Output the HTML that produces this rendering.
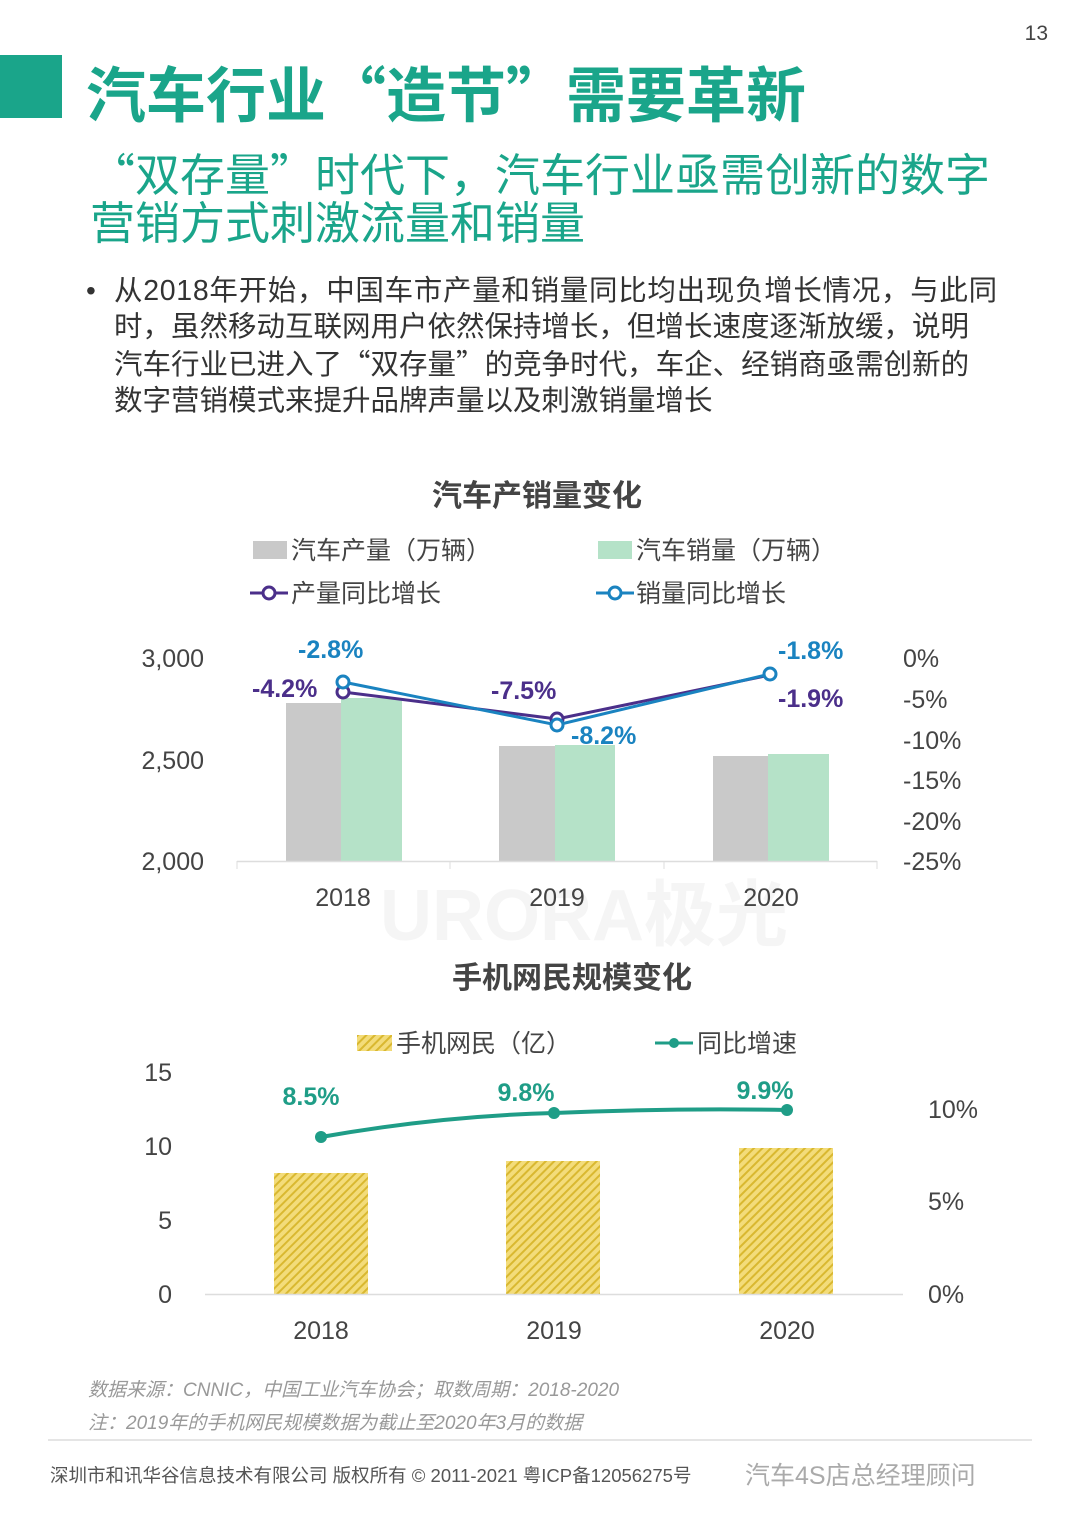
<!DOCTYPE html>
<html><head><meta charset="utf-8"><style>
body{margin:0;background:#fff;width:1080px;height:1527px;overflow:hidden;font-family:"Liberation Sans","Noto Sans CJK SC",sans-serif;}
.a{position:absolute;white-space:nowrap;}
.q{font-family:"Noto Sans CJK SC",sans-serif;}
</style></head><body>
<div class="a" style="right:32px;top:22px;font-size:21px;color:#444">13</div>
<div class="a" style="left:0;top:55px;width:62px;height:63px;background:#1aa58a"></div>
<div class="a" style="left:86px;top:52px;font-size:60px;font-weight:bold;color:#1aa58a;line-height:80px">汽车行业<span class="q">“</span>造节<span class="q">”</span>需要革新</div>
<div class="a" style="left:90px;top:148px;font-size:45px;color:#1aa58a;line-height:48px"><span class="q">“</span>双存量<span class="q">”</span>时代下，汽车行业亟需创新的数字<br>营销方式刺激流量和销量</div>
<div class="a" style="left:86px;top:273px;font-size:28px;color:#333;line-height:36px">•</div>
<div class="a" style="left:114px;top:273px;font-size:28.5px;color:#333;line-height:36px"><span style="letter-spacing:0.7px">从2018年开始，中国车市产量和销量同比均出现负增长情况，与此同</span><br>时，虽然移动互联网用户依然保持增长，但增长速度逐渐放缓，说明<br>汽车行业已进入了<span class="q">“</span>双存量<span class="q">”</span>的竞争时代，车企、经销商亟需创新的<br>数字营销模式来提升品牌声量以及刺激销量增长</div>

<svg class="a" style="left:0;top:0" width="1080" height="1527" font-family="Liberation Sans, Noto Sans CJK SC, sans-serif">
<defs><pattern id="h" width="6" height="6" patternUnits="userSpaceOnUse" patternTransform="rotate(45)"><rect width="6" height="6" fill="#f3dc7a"/><rect width="2" height="6" fill="#d9b830"/></pattern></defs>
<text x="380" y="940" font-size="72" font-weight="bold" fill="#f5f5f5">URORA极光</text>
<text x="537" y="506" font-size="30" font-weight="bold" fill="#444" text-anchor="middle">汽车产销量变化</text>
<rect x="253" y="541" width="34" height="18" fill="#c9c9c9"/><text x="291" y="559" font-size="25" fill="#444">汽车产量（万辆）</text>
<rect x="598" y="541" width="34" height="18" fill="#b5e2c8"/><text x="636" y="559" font-size="25" fill="#444">汽车销量（万辆）</text>
<line x1="250" y1="593" x2="288" y2="593" stroke="#4b2f8a" stroke-width="3"/><circle cx="269" cy="593" r="6" fill="#fff" stroke="#4b2f8a" stroke-width="3"/><text x="291" y="602" font-size="25" fill="#444">产量同比增长</text>
<line x1="596" y1="593" x2="634" y2="593" stroke="#1a83c0" stroke-width="3"/><circle cx="615" cy="593" r="6" fill="#fff" stroke="#1a83c0" stroke-width="3"/><text x="636" y="602" font-size="25" fill="#444">销量同比增长</text>
<g font-size="25" fill="#444" text-anchor="end"><text x="204" y="667">3,000</text><text x="204" y="769">2,500</text><text x="204" y="870">2,000</text></g>
<g font-size="25" fill="#444"><text x="903" y="667">0%</text><text x="903" y="708">-5%</text><text x="903" y="749">-10%</text><text x="903" y="789">-15%</text><text x="903" y="830">-20%</text><text x="903" y="870">-25%</text></g>
<rect x="286" y="703" width="55" height="158" fill="#c9c9c9"/><rect x="341" y="698" width="61" height="163" fill="#b5e2c8"/>
<rect x="499" y="746" width="56" height="115" fill="#c9c9c9"/><rect x="555" y="745" width="60" height="116" fill="#b5e2c8"/>
<rect x="713" y="756" width="55" height="105" fill="#c9c9c9"/><rect x="768" y="754" width="61" height="107" fill="#b5e2c8"/>
<line x1="237" y1="861.5" x2="877" y2="861.5" stroke="#ddd" stroke-width="1.5"/>
<g stroke="#ddd"><line x1="237" y1="861" x2="237" y2="869"/><line x1="450" y1="861" x2="450" y2="869"/><line x1="664" y1="861" x2="664" y2="869"/><line x1="877" y1="861" x2="877" y2="869"/></g>
<g font-size="25" fill="#444" text-anchor="middle"><text x="343" y="906">2018</text><text x="557" y="906">2019</text><text x="771" y="906">2020</text></g>
<polyline points="343,692 557,719 770,675" fill="none" stroke="#4b2f8a" stroke-width="3"/>
<polyline points="343,682 557,725 770,674" fill="none" stroke="#1a83c0" stroke-width="3"/>
<g fill="#fff" stroke-width="3"><circle cx="343" cy="692" r="6" stroke="#4b2f8a"/><circle cx="557" cy="719" r="6" stroke="#4b2f8a"/><circle cx="343" cy="682" r="6" stroke="#1a83c0"/><circle cx="557" cy="725" r="6" stroke="#1a83c0"/><circle cx="770" cy="674" r="6" stroke="#1a83c0"/></g>
<g font-size="25" font-weight="bold"><text x="298" y="658" fill="#1a83c0">-2.8%</text><text x="252" y="697" fill="#4b2f8a">-4.2%</text><text x="491" y="699" fill="#4b2f8a">-7.5%</text><text x="571" y="744" fill="#1a83c0">-8.2%</text><text x="778" y="659" fill="#1a83c0">-1.8%</text><text x="778" y="707" fill="#4b2f8a">-1.9%</text></g>

<text x="572" y="988" font-size="30" font-weight="bold" fill="#444" text-anchor="middle">手机网民规模变化</text>
<rect x="357" y="1035" width="35" height="16" fill="url(#h)"/><text x="396" y="1052" font-size="25" fill="#444">手机网民（亿）</text>
<line x1="655" y1="1043" x2="693" y2="1043" stroke="#1f9d87" stroke-width="3"/><circle cx="674" cy="1043" r="5" fill="#1f9d87"/><text x="697" y="1052" font-size="25" fill="#444">同比增速</text>
<g font-size="25" fill="#444" text-anchor="end"><text x="172" y="1081">15</text><text x="172" y="1155">10</text><text x="172" y="1229">5</text><text x="172" y="1303">0</text></g>
<g font-size="25" fill="#444"><text x="928" y="1118">10%</text><text x="928" y="1210">5%</text><text x="928" y="1303">0%</text></g>
<rect x="274" y="1173" width="94" height="121" fill="url(#h)"/><rect x="506" y="1161" width="94" height="133" fill="url(#h)"/><rect x="739" y="1148" width="94" height="146" fill="url(#h)"/>
<line x1="205" y1="1294.5" x2="903" y2="1294.5" stroke="#ddd" stroke-width="1.5"/>
<path d="M321,1137 Q440,1116 554,1113 Q670,1108 787,1110" fill="none" stroke="#1f9d87" stroke-width="4"/>
<g fill="#1f9d87"><circle cx="321" cy="1137" r="6"/><circle cx="554" cy="1113" r="6"/><circle cx="787" cy="1110" r="6"/></g>
<g font-size="25" font-weight="bold" fill="#1f9d87" text-anchor="middle"><text x="311" y="1105">8.5%</text><text x="526" y="1101">9.8%</text><text x="765" y="1099">9.9%</text></g>
<g font-size="25" fill="#444" text-anchor="middle"><text x="321" y="1339">2018</text><text x="554" y="1339">2019</text><text x="787" y="1339">2020</text></g>
<g font-size="19" font-style="italic" fill="#999"><text x="88" y="1396">数据来源：CNNIC，中国工业汽车协会；取数周期：2018-2020</text><text x="88" y="1429">注：2019年的手机网民规模数据为截止至2020年3月的数据</text></g>
<line x1="48" y1="1440" x2="1032" y2="1440" stroke="#e5e5e5" stroke-width="2"/>
<text x="50" y="1482" font-size="18.5" fill="#555">深圳市和讯华谷信息技术有限公司 版权所有 © 2011-2021 粤ICP备12056275号</text>
<text x="745" y="1484" font-size="25" fill="#aaa">汽车4S店总经理顾问</text>
</svg>
</body></html>
